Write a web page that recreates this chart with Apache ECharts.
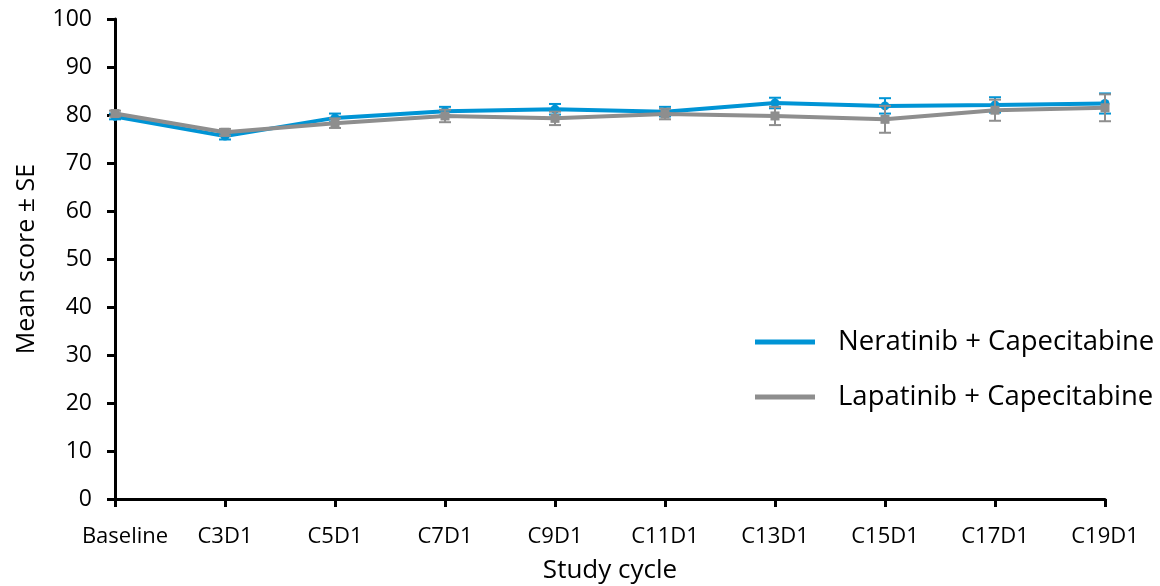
<!DOCTYPE html>
<html>
<head>
<meta charset="utf-8">
<script src="https://cdn.jsdelivr.net/npm/echarts@6/dist/echarts.min.js"></script>
<style>html,body{margin:0;padding:0;background:#fff}#c{width:1160px;height:586px}</style>
</head>
<body>
<div id="c"></div>
<script>
var categories = ['Baseline','C3D1','C5D1','C7D1','C9D1','C11D1','C13D1','C15D1','C17D1','C19D1'];
var neratinibMean = [79.7, 75.6, 79.4, 80.8, 81.2, 80.7, 82.5, 81.9, 82.1, 82.4];
var neratinibSE   = [0.6, 0.7, 0.9, 0.9, 1.1, 1.0, 1.1, 1.6, 1.6, 2.1];
var lapatinibMean = [80.3, 76.4, 78.3, 79.8, 79.3, 80.2, 79.8, 79.1, 81.0, 81.5];
var lapatinibSE   = [0.6, 0.7, 1.0, 1.3, 1.4, 1.1, 1.9, 2.8, 2.2, 2.8];
var yTicks = [0,10,20,30,40,50,60,70,80,90,100];

var FONT = 'Open Sans';
var BLUE = '#0094D5';
var GRAY = '#8E8E8E';

function errBar(color, means, ses) {
  return {
    type: 'custom',
    z: 3,
    silent: true,
    data: means.map(function (m, i) { return [i, m - ses[i], m + ses[i]]; }),
    renderItem: function (params, api) {
      var lo = api.coord([api.value(0), api.value(1)]);
      var hi = api.coord([api.value(0), api.value(2)]);
      var hw = 6;
      var st = { stroke: color, lineWidth: 2 };
      return {
        type: 'group',
        children: [
          { type: 'line', shape: { x1: lo[0], y1: lo[1], x2: hi[0], y2: hi[1] }, style: st },
          { type: 'line', shape: { x1: lo[0] - hw, y1: lo[1], x2: lo[0] + hw, y2: lo[1] }, style: st },
          { type: 'line', shape: { x1: hi[0] - hw, y1: hi[1], x2: hi[0] + hw, y2: hi[1] }, style: st }
        ]
      };
    }
  };
}

var chart = echarts.init(document.getElementById('c'));
chart.setOption({
  animation: false,
  textStyle: { fontFamily: FONT },
  grid: { left: 115, right: 55, top: 19, bottom: 87, containLabel: false, outerBoundsMode: 'none' },
  legend: {
    orient: 'vertical',
    left: 750,
    top: 323,
    itemWidth: 60,
    itemHeight: 5,
    itemGap: 27,
    icon: 'rect',
    textStyle: { fontFamily: FONT, fontSize: 27.5, lineHeight: 28, color: '#000', padding: [0, 0, 0, 18] },
    data: [
      { name: 'Neratinib + Capecitabine', itemStyle: { color: BLUE } },
      { name: 'Lapatinib + Capecitabine', itemStyle: { color: GRAY } }
    ]
  },
  xAxis: {
    type: 'category',
    data: categories,
    boundaryGap: false,
    name: 'Study cycle',
    nameLocation: 'middle',
    nameGap: 59,
    nameTextStyle: { fontFamily: FONT, fontSize: 26, color: '#000' },
    axisLine: { lineStyle: { color: '#000', width: 3 } },
    axisTick: { length: 8, lineStyle: { color: '#000', width: 3 } },
    axisLabel: {
      fontFamily: FONT, fontSize: 22, color: '#000', margin: 27, interval: 0,
      formatter: function (v, i) { return i === 0 ? '{b|' + v + '}' : v; },
      rich: { b: { fontFamily: FONT, fontSize: 22, color: '#000', padding: [0, 0, 0, 20] } }
    },
    splitLine: { show: false }
  },
  yAxis: {
    type: 'value',
    min: 0,
    max: 100,
    interval: 10,
    name: 'Mean score ± SE',
    nameLocation: 'middle',
    nameGap: 76,
    nameTextStyle: { fontFamily: FONT, fontSize: 25, color: '#000' },
    axisLine: { show: true, lineStyle: { color: '#000', width: 3 } },
    axisTick: { show: true, length: 8, lineStyle: { color: '#000', width: 3 } },
    axisLabel: { fontFamily: FONT, fontSize: 23, color: '#000', margin: 23,
      formatter: function (v) { return yTicks.indexOf(v) >= 0 ? String(v) : ''; } },
    splitLine: { show: false }
  },
  series: [
    {
      name: 'Neratinib + Capecitabine',
      type: 'line',
      data: neratinibMean,
      z: 2,
      symbol: 'circle',
      symbolSize: 9,
      lineStyle: { color: BLUE, width: 4 },
      itemStyle: { color: BLUE }
    },
    errBar(BLUE, neratinibMean, neratinibSE),
    {
      name: 'Lapatinib + Capecitabine',
      type: 'line',
      data: lapatinibMean,
      z: 4,
      symbol: 'rect',
      symbolSize: 9,
      lineStyle: { color: GRAY, width: 4 },
      itemStyle: { color: GRAY }
    },
    errBar(GRAY, lapatinibMean, lapatinibSE)
  ]
});
</script>
</body>
</html>
